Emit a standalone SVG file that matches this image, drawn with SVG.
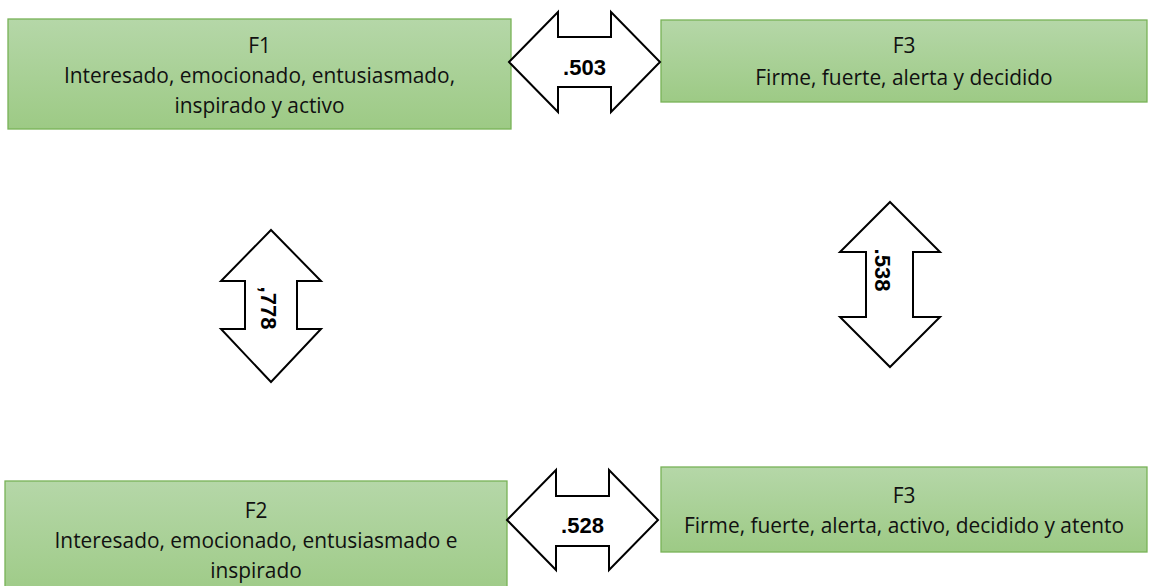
<svg xmlns="http://www.w3.org/2000/svg" width="1149" height="586" viewBox="0 0 1149 586">
<defs>
<linearGradient id="g" x1="0" y1="0" x2="0" y2="1">
<stop offset="0" stop-color="#b5d7a8"/>
<stop offset="1" stop-color="#9dca85"/>
</linearGradient>
<style>
.box{fill:url(#g);stroke:#78b257;stroke-width:1.3}
.t{font-family:"Open Sans","Liberation Sans",Arial,sans-serif;font-size:20.9px;fill:#111;text-anchor:middle}
.arr{fill:#fff;stroke:#000;stroke-width:2;stroke-linejoin:miter}
.n{font-family:"Liberation Sans",Arial,sans-serif;font-size:22px;font-weight:bold;fill:#000;text-anchor:middle}
</style>
</defs>
<rect width="1149" height="586" fill="#fff"/>
<g id="f1">
<rect class="box" x="8" y="19" width="503" height="110"/>
<text class="t" x="259.5" y="53">F1</text>
<text class="t" x="259.5" y="83">Interesado, emocionado, entusiasmado,</text>
<text class="t" x="259.5" y="113">inspirado y activo</text>
</g>
<g id="f3a">
<rect class="box" x="661" y="20" width="486" height="82"/>
<text class="t" x="904" y="53">F3</text>
<text class="t" x="904" y="85">Firme, fuerte, alerta y decidido</text>
</g>
<g id="f2">
<rect class="box" x="5" y="481" width="502" height="120"/>
<text class="t" x="256" y="518">F2</text>
<text class="t" x="256" y="548">Interesado, emocionado, entusiasmado e</text>
<text class="t" x="256" y="578">inspirado</text>
</g>
<g id="f3b">
<rect class="box" x="661" y="467" width="486" height="85"/>
<text class="t" x="904" y="503">F3</text>
<text class="t" x="904" y="533">Firme, fuerte, alerta, activo, decidido y atento</text>
</g>
<g id="connectors">
<g id="c1">
<polygon class="arr" points="509,62 558,12 558,37 611,37 611,12 660,62 611,112 611,87 558,87 558,112"/>
<text class="n" x="584.5" y="75">.503</text>
</g>
<g id="c2">
<polygon class="arr" points="271,230 321,281 297,281 297,329 321,329 271,382 221,329 245,329 245,281 221,281"/>
<text class="n" transform="translate(261,308) rotate(90)">,778</text>
</g>
<g id="c3">
<polygon class="arr" points="890,202 940,252 913,252 913,317 940,317 890,367 840,317 866,317 866,252 840,252"/>
<text class="n" transform="translate(875,270) rotate(90)">.538</text>
</g>
<g id="c4">
<polygon class="arr" points="507,520 556,470 556,496 609,496 609,470 658,520 609,570 609,546 556,546 556,570"/>
<text class="n" x="582.5" y="533">.528</text>
</g>
</g>
</svg>
